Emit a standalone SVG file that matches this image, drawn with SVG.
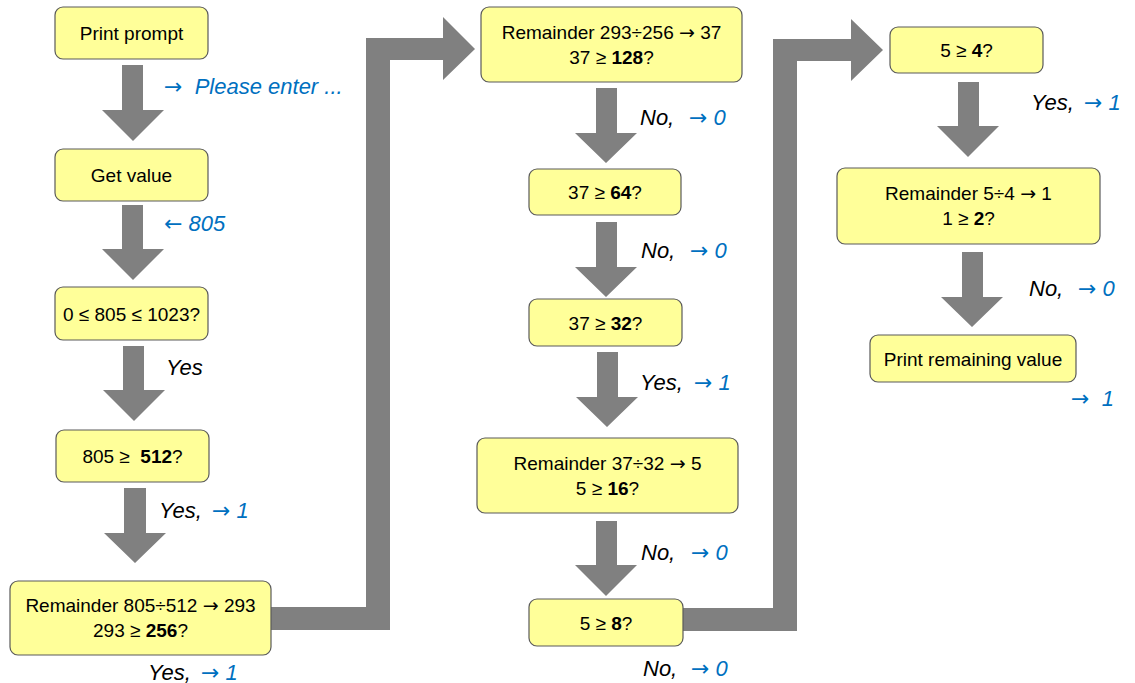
<svg xmlns="http://www.w3.org/2000/svg" width="1135" height="683" viewBox="0 0 1135 683">
<style>
.box{fill:#FFFF99;stroke:#5a5a5a;stroke-width:1.2}
.t{font-family:"Liberation Sans",Arial,sans-serif;font-size:19px;fill:#000;text-anchor:middle;white-space:pre}
.b{font-weight:bold}
.lab{font-family:"Liberation Sans",Arial,sans-serif;font-size:22px;font-style:italic;fill:#000;white-space:pre}
.blue{fill:#0070C0}
.ar{font-family:"DejaVu Sans",sans-serif;font-style:normal}
.arr{fill:#808080}
</style>
<rect width="1135" height="683" fill="#fff"/>
<g id="connectors">
<polygon class="arr" points="122,65 143,65 143,110 164,110 133,141 102,110 122,110"/>
<polygon class="arr" points="122,205 143,205 143,249 164,249 133,280 102,249 122,249"/>
<polygon class="arr" points="123,346 144,346 144,390 165,390 134,421 103,390 123,390"/>
<polygon class="arr" points="124,488 146,488 146,533 166,533 135,563 104,533 124,533"/>
<polygon class="arr" points="271,607 366,607 366,38 443,38 443,17 475,49 443,80 443,60 390,60 390,630 271,630"/>
<polygon class="arr" points="596,88 617,88 617,133 637,133 606,163 575,133 596,133"/>
<polygon class="arr" points="596,222 617,222 617,267 637,267 606,297 575,267 596,267"/>
<polygon class="arr" points="597,352 618,352 618,397 638,397 607,427 576,397 597,397"/>
<polygon class="arr" points="596,521 617,521 617,565 637,565 606,596 575,565 596,565"/>
<polygon class="arr" points="683,608 773,608 773,39 851,39 851,19 883,50 851,81 851,61 797,61 797,631 683,631"/>
<polygon class="arr" points="958,82 979,82 979,126 999,126 968,157 937,126 958,126"/>
<polygon class="arr" points="962,252 983,252 983,297 1003,297 972,327 941,297 962,297"/>
</g>
<g id="labels">
<text class="lab blue" x="164" y="94"><tspan class="ar">→</tspan>  Please enter ...</text>
<text class="lab blue" x="164" y="231"><tspan class="ar">←</tspan> 805</text>
<text class="lab" x="166" y="375">Yes</text>
<text class="lab" x="159" y="518">Yes,</text><text class="lab blue" x="212" y="518"><tspan class="ar">→</tspan> 1</text>
<text class="lab" x="148" y="680">Yes,</text><text class="lab blue" x="201" y="680"><tspan class="ar">→</tspan> 1</text>
<text class="lab" x="640" y="125">No,</text><text class="lab blue" x="689" y="125"><tspan class="ar">→</tspan> 0</text>
<text class="lab" x="641" y="258">No,</text><text class="lab blue" x="690" y="258"><tspan class="ar">→</tspan> 0</text>
<text class="lab" x="640" y="390">Yes,</text><text class="lab blue" x="694" y="390"><tspan class="ar">→</tspan> 1</text>
<text class="lab" x="641" y="560">No,</text><text class="lab blue" x="691" y="560"><tspan class="ar">→</tspan> 0</text>
<text class="lab" x="643" y="676">No,</text><text class="lab blue" x="691" y="676"><tspan class="ar">→</tspan> 0</text>
<text class="lab" x="1031" y="110">Yes,</text><text class="lab blue" x="1084" y="110"><tspan class="ar">→</tspan> 1</text>
<text class="lab" x="1029" y="296">No,</text><text class="lab blue" x="1078" y="296"><tspan class="ar">→</tspan> 0</text>
<text class="lab blue" x="1071" y="406"><tspan class="ar">→</tspan>  1</text>
</g>
<g id="n1"><rect class="box" x="55" y="7" width="153" height="52" rx="8"/><text class="t" x="131.5" y="40">Print prompt</text></g>
<g id="n2"><rect class="box" x="55" y="149" width="153" height="52" rx="8"/><text class="t" x="131.5" y="182">Get value</text></g>
<g id="n3"><rect class="box" x="55" y="287" width="153" height="53" rx="8"/><text class="t" x="131.5" y="320.5">0 ≤ 805 ≤ 1023?</text></g>
<g id="n4"><rect class="box" x="56" y="430" width="153" height="52" rx="8"/><text class="t" x="132.5" y="463">805 ≥  <tspan class="b">512</tspan>?</text></g>
<g id="n5"><rect class="box" x="10" y="581" width="261" height="74" rx="8"/><text class="t" x="140.5" y="612">Remainder 805÷512 <tspan class="ar">→</tspan> 293</text><text class="t" x="140.5" y="637">293 ≥ <tspan class="b">256</tspan>?</text></g>
<g id="n6"><rect class="box" x="481" y="7" width="261" height="75" rx="8"/><text class="t" x="611.5" y="39">Remainder 293÷256 <tspan class="ar">→</tspan> 37</text><text class="t" x="611.5" y="64">37 ≥ <tspan class="b">128</tspan>?</text></g>
<g id="n7"><rect class="box" x="529" y="169" width="152" height="46" rx="8"/><text class="t" x="605" y="199">37 ≥ <tspan class="b">64</tspan>?</text></g>
<g id="n8"><rect class="box" x="529" y="299" width="153" height="47" rx="8"/><text class="t" x="605.5" y="329.5">37 ≥ <tspan class="b">32</tspan>?</text></g>
<g id="n9"><rect class="box" x="477" y="438" width="261" height="75" rx="8"/><text class="t" x="607.5" y="470">Remainder 37÷32 <tspan class="ar">→</tspan> 5</text><text class="t" x="607.5" y="495">5 ≥ <tspan class="b">16</tspan>?</text></g>
<g id="n10"><rect class="box" x="529" y="599" width="154" height="47" rx="8"/><text class="t" x="606" y="629.5">5 ≥ <tspan class="b">8</tspan>?</text></g>
<g id="n11"><rect class="box" x="890" y="27" width="153" height="46" rx="8"/><text class="t" x="966.5" y="57">5 ≥ <tspan class="b">4</tspan>?</text></g>
<g id="n12"><rect class="box" x="837" y="168" width="263" height="76" rx="8"/><text class="t" x="968.5" y="200">Remainder 5÷4 <tspan class="ar">→</tspan> 1</text><text class="t" x="968.5" y="225">1 ≥ <tspan class="b">2</tspan>?</text></g>
<g id="n13"><rect class="box" x="870" y="335" width="206" height="47" rx="8"/><text class="t" x="973" y="365.5">Print remaining value</text></g>
</svg>
